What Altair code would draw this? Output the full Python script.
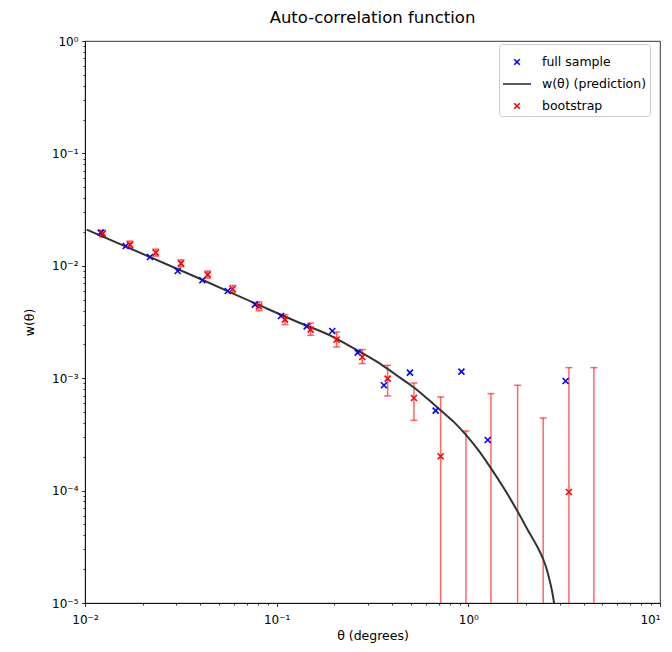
import altair as alt
import pandas as pd

# ---- data ----
full_theta = [0.01208, 0.01631, 0.02183, 0.03046, 0.04093, 0.05553, 0.0770, 0.1053,
              0.1434, 0.1950, 0.2647, 0.3628, 0.4959, 0.6752, 0.9204, 1.2625, 3.218]
full_w = [0.01974, 0.0150, 0.01198, 0.00899, 0.00743, 0.005968, 0.004516, 0.003577,
          0.002895, 0.00263, 0.00169, 0.000865, 0.001122, 0.000515, 0.001145, 0.000282, 0.000944]

boot_theta = [0.01237, 0.01717, 0.02338, 0.03168, 0.04365, 0.05894, 0.08084, 0.1105,
              0.1504, 0.2056, 0.2796, 0.3793, 0.5203, 0.7170, 0.9716, 1.312, 1.808,
              2.458, 3.348, 4.519]
boot_w = [0.01934, 0.01544, 0.0131, 0.01052, 0.008353, 0.00622, 0.004361, 0.003322,
          0.002706, 0.002205, 0.001544, 0.000992, 0.000667, 0.000202, None, None, None,
          None, 9.72e-5, None]
boot_hi = [0.02078, 0.01659, 0.01407, 0.01130, 0.008974, 0.006682, 0.004782, 0.003680,
           0.003098, 0.002576, 0.001797, 0.001302, 0.000907, 0.000681, 0.000339, 0.000729,
           0.000865, 0.000442, 0.001242, 0.001242]
boot_lo = [0.01800, 0.01437, 0.01219, 0.00979, 0.007775, 0.00579, 0.003977, 0.002998,
           0.002407, 0.001895, 0.001349, 0.000695, 0.000422, None, None, None,
           None, None, None, None]

pred_theta = [0.01021, 0.0398, 0.0800, 0.1323, 0.1897, 0.2318, 0.2830, 0.3458, 0.4227,
              0.5161, 0.6081, 0.7170, 0.8341, 0.9716, 1.1303, 1.3166, 1.545, 1.8145,
              2.111, 2.28, 2.459, 2.55, 2.633, 2.715, 2.797, 2.9]
pred_w = [0.02099, 0.00767, 0.004508, 0.003097, 0.002407, 0.002002, 0.001655, 0.001349,
          0.001061, 0.000835, 0.000663, 0.000518, 0.000413, 0.0003136, 0.0002284, 0.0001569,
          0.0001027, 6.45e-5, 4.04e-5, 3.22e-5, 2.45e-5, 2.06e-5, 1.69e-5, 1.35e-5,
          1.02e-5, 6.0e-6]

series_domain = ["full sample", "w(θ) (prediction)", "bootstrap"]
series_colors = ["blue", "#333333", "red"]

x_ticks = [m * 10.0 ** e for e in (-2, -1, 0) for m in range(1, 10)] + [10.0]
y_ticks = [m * 10.0 ** e for e in (-5, -4, -3, -2, -1) for m in range(1, 10)] + [1.0]

# ---- tables ----
markers = pd.concat([
    pd.DataFrame({"theta": full_theta, "w": full_w, "series": "full sample"}),
    pd.DataFrame({"theta": boot_theta, "w": boot_w, "series": "bootstrap"}),
], ignore_index=True)
boot = pd.DataFrame({"theta": boot_theta, "hi": boot_hi, "lo": boot_lo})
pred = pd.DataFrame({"theta": pred_theta, "w": pred_w, "series": "w(θ) (prediction)"})

XPATH = "M-0.2,-0.2L0.2,0.2M-0.2,0.2L0.2,-0.2"
color_scale = alt.Scale(domain=series_domain, range=series_colors)
shape_scale = alt.Scale(domain=series_domain, range=[XPATH, "stroke", XPATH])

major_test = "abs(log(datum.value)/LN10 - round(log(datum.value)/LN10)) < 1e-6"
label_expr = (major_test + " ? '10' + (round(log(datum.value)/LN10) < 0 ? '\u207b' : '') + "
              "['\u2070','\u00b9','\u00b2','\u00b3','\u2074','\u2075'][abs(round(log(datum.value)/LN10))] : ''")
tick_size = {"condition": {"test": major_test, "value": 3.5}, "value": 2}

FONT = "DejaVu Sans"


def make_axis(title, values, tpad, lpad, **kw):
    return alt.Axis(title=title, values=values, labelExpr=label_expr, tickSize=tick_size,
                    labelOverlap=False, grid=False, tickColor="black", domainColor="black",
                    tickWidth=0.8, domainWidth=0.8, labelFont=FONT, labelFontSize=12,
                    labelColor="black", labelPadding=lpad, titleFont=FONT, titleFontSize=12.5,
                    titleFontWeight="normal", titleColor="black", titlePadding=tpad,
                    labelFlush=False, **kw)


xscale = alt.Scale(type="log", domain=[0.01, 10], nice=False)
yscale = alt.Scale(type="log", domain=[1e-5, 1], nice=False)
xaxis = make_axis("θ (degrees)", x_ticks, 4, 8,
                  labelAlign={"condition": {"test": "datum.value > 9.9", "value": "right"},
                              "value": "center"})
yaxis = make_axis("w(θ)", y_ticks, 15, 3.5)

X = alt.X("theta:Q", scale=xscale, axis=xaxis)


def Yf(field):
    return alt.Y(field, scale=yscale, axis=yaxis)


legend = alt.Legend(
    title=None, orient="none", legendX=414, legendY=3, symbolSize=784,
    symbolStrokeWidth=1.6, labelFont=FONT, labelFontSize=12.5, labelColor="black",
    labelOffset=10, padding=3, rowPadding=-8, strokeColor="#cccccc", fillColor="white",
    cornerRadius=3)

rules = alt.Chart(boot).transform_calculate(
    lo_c="isValid(datum.lo) ? datum.lo : 1e-5"
).mark_rule(color="red", opacity=0.6, strokeWidth=1.5, clip=True).encode(
    x=X, y=Yf("hi:Q"), y2="lo_c:Q")

caps_hi = alt.Chart(boot).mark_tick(color="red", opacity=0.6, orient="horizontal",
                                    size=7, thickness=1.5).encode(x=X, y=Yf("hi:Q"))
caps_lo = alt.Chart(boot).transform_filter("isValid(datum.lo)").mark_tick(
    color="red", opacity=0.6, orient="horizontal", size=7, thickness=1.5).encode(
    x=X, y=Yf("lo:Q"))

line = alt.Chart(pred).mark_line(strokeWidth=2, clip=True, interpolate="monotone").encode(
    x=X, y=Yf("w:Q"), color=alt.Color("series:N", scale=color_scale, legend=legend))

points = alt.Chart(markers).transform_filter("isValid(datum.w)").mark_point(
    filled=False, size=900, strokeWidth=1.6, opacity=1).encode(
    x=X, y=Yf("w:Q"),
    color=alt.Color("series:N", scale=color_scale, legend=legend),
    shape=alt.Shape("series:N", scale=shape_scale, legend=legend))

chart = alt.layer(rules, caps_hi, caps_lo, line, points).properties(
    width=575, height=562,
    title=alt.TitleParams("Auto-correlation function", font=FONT, fontSize=16.5,
                          fontWeight="normal", color="black", offset=9, anchor="middle"),
    padding={"left": 77, "top": 33, "right": 4, "bottom": 41},
    autosize=alt.AutoSizeParams(type="none"),
).configure_view(stroke="black", strokeWidth=0.8)

chart.save("out.html", embed_options={"renderer": "svg", "actions": False})
